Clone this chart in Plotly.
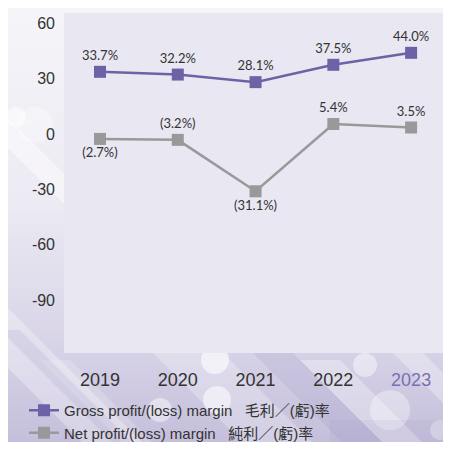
import base64
import plotly.graph_objects as go

years = ["2019", "2020", "2021", "2022", "2023"]
gross_margin = [33.7, 32.2, 28.1, 37.5, 44.0]
net_margin = [-2.7, -3.2, -31.1, 5.4, 3.5]
gross_labels = ["33.7%", "32.2%", "28.1%", "37.5%", "44.0%"]
net_labels = ["(2.7%)", "(3.2%)", "(31.1%)", "5.4%", "3.5%"]
net_label_pos = ["bottom center", "top center", "bottom center", "top center", "top center"]
y_ticks = [60, 30, 0, -30, -60, -90, -120]
gross_name = "Gross profit/(loss) margin\u00a0\u00a0\u00a0毛利／(虧)率"
net_name = "Net profit/(loss) margin\u00a0\u00a0\u00a0純利／(虧)率"

PURPLE = "#6e62a6"
GREY = "#999999"
TEXT = "#333333"

# the page body keeps its default 8px margin, so the figure is sized to end at the window edge
W, H = 435, 434
ML, MT, MR, MB = 56, 5, 0, 89
PW, PH = W - ML - MR, H - MT - MB

svg = """<svg xmlns='http://www.w3.org/2000/svg' width='435' height='434' viewBox='8 8 435 434' preserveAspectRatio='none'>
<defs>
<linearGradient id='g' x1='0' y1='0' x2='0' y2='1'>
<stop offset='0' stop-color='#f6f5f9'/>
<stop offset='0.45' stop-color='#eceaf3'/>
<stop offset='0.75' stop-color='#d9d5e8'/>
<stop offset='1' stop-color='#c3bdda'/>
</linearGradient>
</defs>
<rect x='0' y='0' width='451' height='450' fill='url(#g)'/>
<g fill='#ffffff'>
<polygon points='0,110 0,140 120,260 150,260' opacity='0.45'/>
<polygon points='0,300 0,360 90,450 150,450' opacity='0.3'/>
<polygon points='130,330 200,330 320,450 250,450' opacity='0.25'/>
<polygon points='300,360 340,360 430,450 390,450' opacity='0.3'/>
<polygon points='380,340 410,340 451,381 451,411' opacity='0.3'/>
<polygon points='40,360 70,360 160,450 130,450' opacity='0.2'/>
<circle cx='215' cy='360' r='14' opacity='0.6'/>
<circle cx='160' cy='410' r='12' opacity='0.45'/>
<circle cx='217' cy='400' r='14' opacity='0.55'/>
<circle cx='365' cy='365' r='12' opacity='0.45'/>
<circle cx='390' cy='410' r='20' opacity='0.35'/>
<circle cx='16' cy='117' r='10' opacity='0.5'/>
<circle cx='35' cy='125' r='18' opacity='0.3'/>
<circle cx='440' cy='430' r='10' opacity='0.35'/>
</g>
<g fill='#8f86bb'>
<polygon points='0,330 20,330 140,450 120,450' opacity='0.15'/>
<polygon points='240,340 280,340 390,450 350,450' opacity='0.15'/>
<polygon points='330,420 451,420 451,450 330,450' opacity='0.1'/>
</g>
</svg>"""
bg_uri = "data:image/svg+xml;base64," + base64.b64encode(svg.encode("utf-8")).decode("ascii")

fig = go.Figure()
fig.add_trace(go.Scatter(
    x=years, y=gross_margin, mode="lines+markers+text", name=gross_name,
    line=dict(color=PURPLE, width=2.5),
    marker=dict(symbol="square", size=12, color=PURPLE),
    text=gross_labels, textposition="top center",
    textfont=dict(family="Lato, Open Sans, sans-serif", size=13, color=TEXT),
    cliponaxis=False,
))
fig.add_trace(go.Scatter(
    x=years, y=net_margin, mode="lines+markers+text", name=net_name,
    line=dict(color=GREY, width=2.5),
    marker=dict(symbol="square", size=12, color=GREY),
    text=net_labels, textposition=net_label_pos,
    textfont=dict(family="Lato, Open Sans, sans-serif", size=13, color=TEXT),
    cliponaxis=False,
))

tick_text = [y if y != "2023" else "<span style='color:#7a6fb2'>2023</span>" for y in years]

fig.update_layout(
    width=W, height=H,
    margin=dict(l=ML, r=MR, t=MT, b=MB, pad=0, autoexpand=False),
    paper_bgcolor="#f3f2f8",
    plot_bgcolor="rgba(0,0,0,0)",
    font=dict(family="Liberation Sans, Arial, Noto Sans CJK TC, sans-serif", color=TEXT),
    showlegend=True,
    legend=dict(
        x=(24 - 64) / PW, y=-(394 - 353) / PH, xanchor="left", yanchor="top",
        orientation="v", bgcolor="rgba(0,0,0,0)",
        font=dict(family="Liberation Sans, Noto Sans CJK TC, sans-serif", size=15, color=TEXT),
        itemwidth=30, tracegroupgap=0,
    ),
    xaxis=dict(
        type="category", range=[-0.463, 4.41],
        tickvals=years, ticktext=tick_text,
        showgrid=False, zeroline=False, showline=False, ticks="",
        tickfont=dict(size=18, color=TEXT),
        ticklabelstandoff=14,
    ),
    yaxis=dict(
        range=[-118.8, 65.6], tickvals=y_ticks, ticktext=[str(v) for v in y_ticks],
        showgrid=False, zeroline=False, showline=False, ticks="",
        tickfont=dict(size=16, color=TEXT),
        ticklabelstandoff=8,
    ),
    images=[dict(source=bg_uri, xref="paper", yref="paper", x=-ML / PW, y=1 + MT / PH,
                 sizex=W / PW, sizey=H / PH, xanchor="left", yanchor="top",
                 sizing="stretch", layer="below")],
    shapes=[dict(type="rect", xref="paper", yref="paper", x0=0, x1=1, y0=0, y1=1,
                 fillcolor="#e9e7f1", line=dict(width=0), layer="below")],
)

fig.write_html("out.html")
